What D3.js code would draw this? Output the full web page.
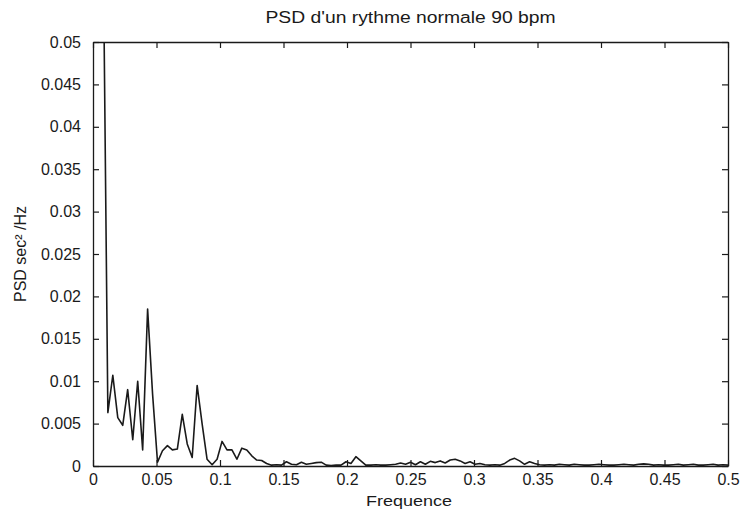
<!DOCTYPE html>
<html>
<head>
<meta charset="utf-8">
<script src="https://cdn.jsdelivr.net/npm/d3@7.9.0/dist/d3.min.js"></script>
<style>
  html, body { margin: 0; padding: 0; background: #fff; }
  svg { display: block; font-family: "Liberation Sans", Arial, sans-serif; }
</style>
</head>
<body>
<svg id="chart" width="744" height="513"></svg>
<script>
// PSD bins (Hz) and values (sec^2/Hz)
const freq = [
  0.0078, 0.0117, 0.0156, 0.0195, 0.0234, 0.0273, 0.0313, 0.0352, 0.0391, 0.0430,
  0.0469, 0.0508, 0.0547, 0.0586, 0.0625, 0.0664, 0.0703, 0.0742, 0.0781, 0.0820,
  0.0859, 0.0898, 0.0938, 0.0977, 0.1016, 0.1055, 0.1094, 0.1133, 0.1172, 0.1211,
  0.1250, 0.1289, 0.1328, 0.1367, 0.1406, 0.1445, 0.1484, 0.1523, 0.1563, 0.1602,
  0.1641, 0.1680, 0.1719, 0.1758, 0.1797, 0.1836, 0.1875, 0.1914, 0.1953, 0.1992,
  0.2031, 0.2070, 0.2109, 0.2148, 0.2188, 0.2227, 0.2266, 0.2305, 0.2344, 0.2383,
  0.2422, 0.2461, 0.2500, 0.2539, 0.2578, 0.2617, 0.2656, 0.2695, 0.2734, 0.2773,
  0.2813, 0.2852, 0.2891, 0.2930, 0.2969, 0.3008, 0.3047, 0.3086, 0.3125, 0.3164,
  0.3203, 0.3242, 0.3281, 0.3320, 0.3359, 0.3398, 0.3438, 0.3477, 0.3516, 0.3555,
  0.3594, 0.3633, 0.3672, 0.3711, 0.3750, 0.3789, 0.3828, 0.3867, 0.3906, 0.3945,
  0.3984, 0.4023, 0.4063, 0.4102, 0.4141, 0.4180, 0.4219, 0.4258, 0.4297, 0.4336,
  0.4375, 0.4414, 0.4453, 0.4492, 0.4531, 0.4570, 0.4609, 0.4648, 0.4688, 0.4727,
  0.4766, 0.4805, 0.4844, 0.4883, 0.4922, 0.4961, 0.5000
];
const psd = [
  0.0650, 0.0063, 0.0107, 0.0057, 0.0048, 0.0090, 0.0031, 0.0100, 0.0019, 0.0185,
  0.0085, 0.00045, 0.0018, 0.0024, 0.0019, 0.0020, 0.0061, 0.0026, 0.0010, 0.0095,
  0.0050, 0.0008, 0.00015, 0.0008, 0.0029, 0.0019, 0.0019, 0.0008, 0.0021, 0.0019,
  0.0012, 0.0007, 0.00065, 0.0003, 0.0001, 0.00015, 0.0001, 0.0005, 0.0002, 0.00015,
  0.00045, 0.0002, 0.0003, 0.0004, 0.00045, 0.0001, 0.00005, 0.0001, 0.0001, 0.0005,
  0.0003, 0.0011, 0.0006, 0.0001, 0.0001, 0.00015, 0.0001, 0.0001, 0.00015, 0.0002,
  0.00035, 0.0002, 0.00045, 0.00015, 0.0005, 0.0002, 0.00055, 0.0004, 0.0006, 0.00035,
  0.0007, 0.0008, 0.0006, 0.0003, 0.0005, 0.0002, 0.0003, 0.00015, 0.0001, 0.00015,
  0.0001, 0.0003, 0.0007, 0.0009, 0.0006, 0.0002, 0.0005, 0.0003, 0.00015, 0.0001,
  0.00015, 0.0001, 0.0002, 0.00015, 0.0001, 0.0002, 0.00015, 0.0001, 0.0001, 0.00015,
  0.0002, 0.00015, 0.0001, 0.0001, 0.00015, 0.0002, 0.00015, 0.0001, 0.0002, 0.00025,
  0.0002, 0.0001, 0.00015, 0.0001, 0.0001, 0.00015, 0.0002, 0.0001, 0.00015, 0.0002,
  0.0001, 0.0001, 0.00015, 0.0002, 0.0001, 0.00015, 0.0001
];
const xTicks = [0, 0.05, 0.1, 0.15, 0.2, 0.25, 0.3, 0.35, 0.4, 0.45, 0.5];
const yTicks = [0, 0.005, 0.01, 0.015, 0.02, 0.025, 0.03, 0.035, 0.04, 0.045, 0.05];
const titleText = "PSD d'un rythme normale 90 bpm";
const xLabel = "Frequence";
const yLabel = "PSD sec\u00B2 /Hz";

const width = 744, height = 513;
const margin = { top: 42, right: 16, bottom: 47, left: 93 };
const innerW = width - margin.left - margin.right;
const innerH = height - margin.top - margin.bottom;

const svg = d3.select('#chart');
const ink = '#1a1a1a';

const x = d3.scaleLinear().domain([0, 0.5]).range([0, innerW]);
const y = d3.scaleLinear().domain([0, 0.05]).range([innerH, 0]);
const fmt = d => String(+d.toFixed(3));

const g = svg.append('g').attr('transform', `translate(${margin.left},${margin.top})`);

g.append('clipPath').attr('id', 'plot-clip')
  .append('rect').attr('width', innerW).attr('height', innerH);

// axes, MATLAB style: ticks inward on all four sides
const tickLen = 6;
const bottomAxis = d3.axisBottom(x).tickValues(xTicks).tickFormat(fmt).tickSizeInner(-tickLen).tickSizeOuter(0).tickPadding(8);
const leftAxis = d3.axisLeft(y).tickValues(yTicks).tickFormat(fmt).tickSizeInner(-tickLen).tickSizeOuter(0).tickPadding(12);
const topAxis = d3.axisTop(x).tickValues(xTicks).tickFormat('').tickSizeInner(-tickLen).tickSizeOuter(0);
const rightAxis = d3.axisRight(y).tickValues(yTicks).tickFormat('').tickSizeInner(-tickLen).tickSizeOuter(0);

g.append('g').attr('class', 'x-axis').attr('transform', `translate(0,${innerH})`).call(bottomAxis);
g.append('g').attr('class', 'y-axis').call(leftAxis);
g.append('g').attr('class', 'top-axis').call(topAxis);
g.append('g').attr('class', 'right-axis').attr('transform', `translate(${innerW},0)`).call(rightAxis);

g.selectAll('.domain').attr('stroke', ink).attr('stroke-width', 1.3);
g.selectAll('.tick line').attr('stroke', ink).attr('stroke-width', 1.2);
g.selectAll('.tick text').attr('fill', ink).style('font-size', '16px');

// the PSD curve
const line = d3.line().x((d, i) => x(freq[i])).y(d => y(d));
g.append('path')
  .datum(psd)
  .attr('clip-path', 'url(#plot-clip)')
  .attr('fill', 'none')
  .attr('stroke', ink)
  .attr('stroke-width', 1.6)
  .attr('stroke-linejoin', 'round')
  .attr('d', line);

// labels
svg.append('text')
  .attr('x', margin.left + innerW / 2).attr('y', 23)
  .attr('text-anchor', 'middle').attr('fill', ink)
  .attr('textLength', 290).attr('lengthAdjust', 'spacingAndGlyphs')
  .style('font-size', '16px')
  .text(titleText);

svg.append('text')
  .attr('x', 409).attr('y', 506)
  .attr('text-anchor', 'middle').attr('fill', ink)
  .attr('textLength', 86).attr('lengthAdjust', 'spacingAndGlyphs')
  .style('font-size', '15px')
  .text(xLabel);

svg.append('text')
  .attr('transform', `translate(26,${margin.top + innerH / 2}) rotate(-90)`)
  .attr('text-anchor', 'middle').attr('fill', ink)
  .style('font-size', '16px')
  .text(yLabel);
</script>
</body>
</html>
